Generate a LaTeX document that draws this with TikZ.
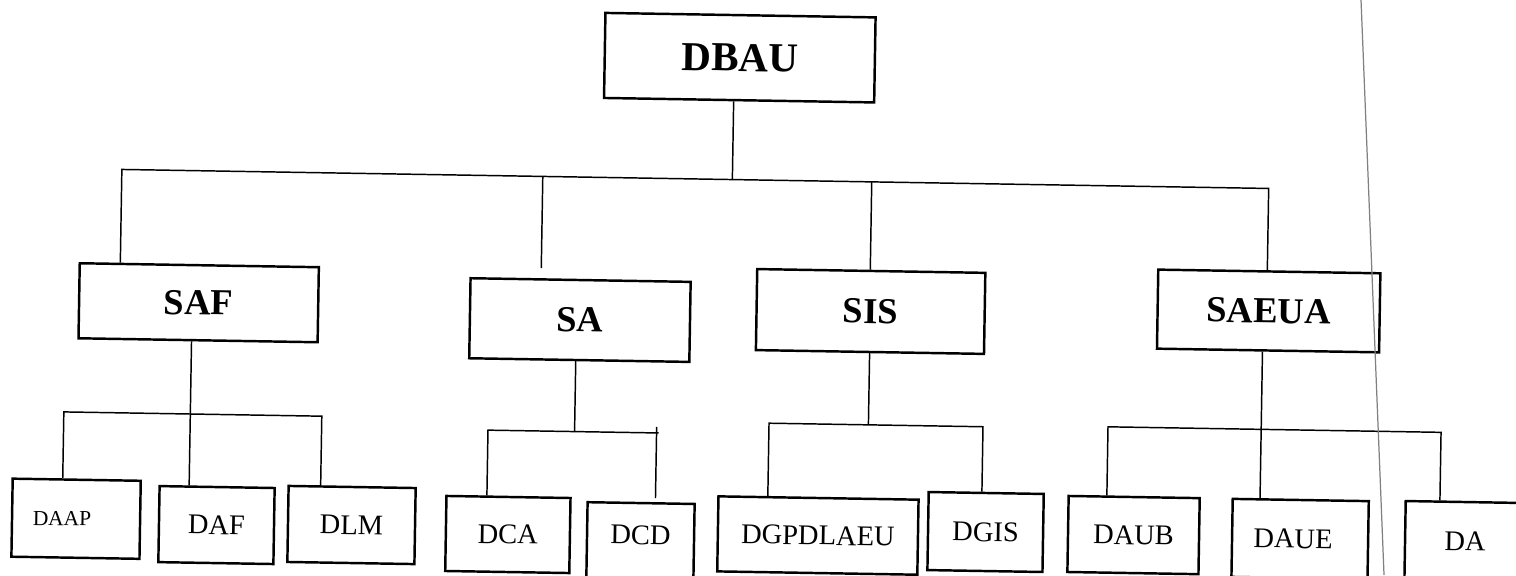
\documentclass[tikz,border=0pt]{standalone}
\usepackage{fontspec}
\setmainfont{Liberation Serif}
\begin{document}
\begin{tikzpicture}[x=0.01cm,y=-0.01cm]
\tikzset{
  bx/.style={draw, line width=0.7pt, inner sep=0pt, align=center},
  topbox/.style={bx, font=\fontsize{11.7}{14}\selectfont\bfseries},
  midbox/.style={bx, font=\fontsize{10.4}{12}\selectfont\bfseries},
  lowbox/.style={bx, font=\fontsize{8.1}{10}\selectfont},
  lowtxt/.style={font=\fontsize{8.1}{10}\selectfont},
  smalltxt/.style={font=\fontsize{6.1}{7}\selectfont},
  sz/.style 2 args={minimum width=#1mm, minimum height=#2mm},
  conn/.style={line width=0.42pt},
}
\fill[white] (0,0) rectangle (1516,575);
\useasboundingbox (0,0) rectangle (1516,575);
\begin{scope}[rotate around={-0.95:(758,287)}, transform shape]
% top
\node[topbox, sz={27}{8.5}] (dbau) at (736,58) {DBAU};
% level 2
\node[midbox, sz={23.9}{7.5}] (saf) at (199,312) {SAF};
\node[midbox, sz={22}{8}] (sa) at (580.5,323) {SA};
\node[midbox, sz={22.8}{8.1}] (sis) at (871,309.6) {SIS};
\node[midbox, sz={22.2}{7.9}] (saeua) at (1269,302.5) {SAEUA};
% level 3
\node[lowbox, sz={12.8}{7.8}, label={[smalltxt, xshift=-1.4mm]center:DAAP}] (daap) at (80,530) {};
\node[lowbox, sz={11.5}{7.6}] (daf) at (220.5,534) {DAF};
\node[lowbox, sz={12.7}{7.6}] (dlm) at (355.5,531.7) {DLM};
\node[lowbox, sz={12.4}{7.5}] (dca) at (512,538.6) {DCA};
\node[lowbox, sz={10.7}{7.5}, label={[lowtxt, yshift=0.55mm]center:DCD}] (dcd) at (644.7,542.5) {};
\node[lowbox, sz={20}{7.5}] (dgp) at (822,534.5) {DGPDLAEU};
\node[lowbox, sz={11.5}{7.8}] (dgis) at (989.6,528.2) {DGIS};
\node[lowbox, sz={13.1}{7.6}] (daub) at (1137.6,528.8) {DAUB};
\node[lowbox, sz={13.6}{7.8}, label={[lowtxt, xshift=-0.7mm]center:DAUE}] (daue) at (1304.2,530) {};
\node[lowbox, sz={12}{7.8}] (da) at (1469.2,529.3) {DA};
% main bus
\coordinate (bL) at (120,180);
\coordinate (bR) at (1267,180);
\draw[conn] (saf.north -| bL) -- (bL) -- (bR) -- (saeua.north -| bR);
\coordinate (j0) at (730.6,180);
\draw[conn] (dbau.south -| j0) -- (j0);
\coordinate (j1) at (541,180);
\coordinate (j1e) at (541,271.6);
\draw[conn] (j1) -- (j1e);
\coordinate (j2) at (870,180);
\draw[conn] (j2) -- (sis.north -| j2);
% SAF group
\coordinate (fL) at (66,423.4);
\coordinate (fM) at (192.5,423.4);
\coordinate (fR) at (324,423.4);
\draw[conn] (saf.south -| fM) -- (daf.north -| fM);
\draw[conn] (daap.north -| fL) -- (fL) -- (fR) -- (dlm.north -| fR);
% SA group
\coordinate (aL) at (490.4,434.6);
\coordinate (aM) at (577,434.6);
\coordinate (aR) at (661,434.6);
\draw[conn] (sa.south -| aM) -- (aM);
\draw[conn] (dca.north -| aL) -- (aL) -- (aR);
\coordinate (dT) at (659,428.5);
\coordinate (dB) at (659,499.7);
\draw[conn] (dT) -- (dB);
% SIS group
\coordinate (sL) at (771.3,423);
\coordinate (sM) at (870.7,423);
\coordinate (sR) at (985.3,423);
\draw[conn] (sis.south -| sM) -- (sM);
\draw[conn] (dgp.north -| sL) -- (sL) -- (sR) -- (dgis.north -| sR);
% SAEUA group
\coordinate (eL) at (1110.3,421);
\coordinate (eM) at (1263.5,421);
\coordinate (eR) at (1443.4,421);
\draw[conn] (saeua.south -| eM) -- (daue.north -| eM);
\draw[conn] (daub.north -| eL) -- (eL) -- (eR) -- (da.north -| eR);
\end{scope}
% thin grey line across the right part
\coordinate (g1) at (1361,0);
\coordinate (g2) at (1384,575);
\draw[gray, line width=0.35pt] (g1) -- (g2);
\end{tikzpicture}
\end{document}
